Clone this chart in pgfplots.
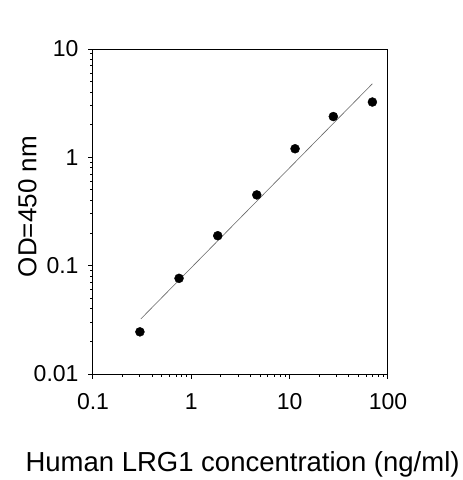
\documentclass[border=0pt]{standalone}
\usepackage{pgfplots}
\pgfplotsset{compat=1.18}
\usepackage{fontspec}
\setmainfont{Liberation Sans}
\begin{document}
\begin{tikzpicture}
\begin{axis}[
  at={(0,0)}, anchor=south west,
  scale only axis, width=295bp, height=325bp,
  xmode=log, ymode=log,
  xmin=0.1, xmax=100, ymin=0.01, ymax=10,
  xtick={0.1,1,10,100}, xticklabels={0.1,1,10,100},
  ytick={0.01,0.1,1,10}, yticklabels={0.01,0.1,1,10},
  minor tick num=0, minor xtick={}, minor ytick={},
  tick align=outside, tick pos=left,
  major tick length=5bp,
  axis line style={line width=1bp},
  every tick/.style={black, line width=1bp},
  /pgf/number format/assume math mode=true,
  tick label style={font=\fontsize{23bp}{25bp}\selectfont},
  xticklabel style={anchor=base, yshift=-31bp},
  yticklabel style={anchor=east, xshift=-6bp},
  xlabel={Human LRG1 concentration (ng/ml)},
  ylabel={OD=450 nm},
  xlabel style={font=\fontsize{27.5bp}{30bp}\selectfont, at={(axis description cs:0.507,0)}, anchor=base, yshift=-97.7bp},
  ylabel style={font=\fontsize{26bp}{28bp}\selectfont, at={(axis description cs:-0.222,0.515)}, anchor=center},
]
\addplot[gray!80!black, line width=0.6bp, no marks] coordinates {(0.306,0.0322) (69.4,4.78)};
\addplot[only marks, mark=*, mark size=4.5bp, black] coordinates {
(0.30,0.0245) (0.75,0.0764) (1.856,0.189) (4.63,0.45) (11.35,1.2) (27.8,2.38) (69.4,3.24)};
\end{axis}
\pgfresetboundingbox
\path[use as bounding box] (-93bp,-106bp) rectangle (370bp,374bp);
\end{tikzpicture}
\end{document}
